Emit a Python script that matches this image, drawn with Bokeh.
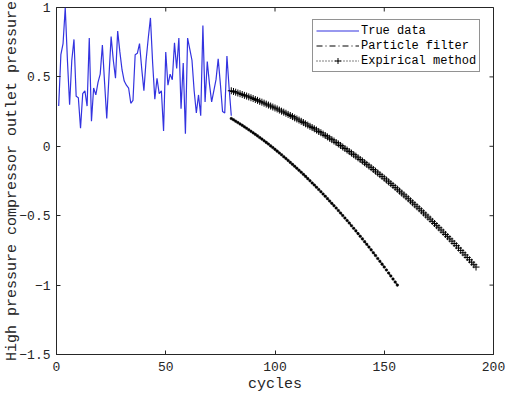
import math

from bokeh.plotting import figure
from bokeh.models import Range1d, FixedTicker, Legend, LegendItem
from bokeh.embed import file_html
from bokeh.resources import INLINE

# ---- data -------------------------------------------------------------
true_cycles = list(range(1, 81))
true_values = [
    0.29, 0.66, 0.74, 1.00, 0.62, 0.30, 0.62, 0.77, 0.36, 0.35,
    0.13, 0.38, 0.40, 0.29, 0.78, 0.18, 0.42, 0.37, 0.46, 0.52,
    0.73, 0.46, 0.20, 0.50, 0.79, 0.62, 0.49, 0.83, 0.68, 0.55,
    0.47, 0.44, 0.42, 0.31, 0.33, 0.66, 0.67, 0.74, 0.56, 0.40,
    0.62, 0.78, 0.925, 0.60, 0.34, 0.49, 0.38, 0.40, 0.11, 0.68,
    0.44, 0.52, 0.48, 0.745, 0.56, 0.78, 0.27, 0.60, 0.09, 0.78,
    0.70, 0.62, 0.40, 0.24, 0.37, 0.22, 0.87, 0.32, 0.61, 0.45,
    0.32, 0.40, 0.48, 0.63, 0.45, 0.25, 0.24, 0.65, 0.42, 0.22,
]

pf_cycles = list(range(80, 157))
pf_values = [
    0.200, 0.191, 0.181, 0.171, 0.161, 0.151, 0.140, 0.130, 0.119, 0.108,
    0.097, 0.086, 0.075, 0.063, 0.052, 0.040, 0.028, 0.016, 0.003, -0.009,
    -0.022, -0.035, -0.048, -0.061, -0.075, -0.088, -0.102, -0.116, -0.130, -0.144,
    -0.158, -0.173, -0.187, -0.202, -0.217, -0.233, -0.248, -0.264, -0.279, -0.295,
    -0.311, -0.327, -0.344, -0.360, -0.377, -0.394, -0.411, -0.428, -0.445, -0.463,
    -0.481, -0.499, -0.517, -0.535, -0.553, -0.572, -0.591, -0.609, -0.629, -0.648,
    -0.667, -0.687, -0.706, -0.726, -0.746, -0.767, -0.787, -0.808, -0.828, -0.849,
    -0.870, -0.891, -0.913, -0.934, -0.956, -0.978, -1.000,
]

em_cycles = list(range(80, 193))
em_values = [
    0.400, 0.395, 0.390, 0.384, 0.379, 0.373, 0.367, 0.362, 0.356, 0.350,
    0.344, 0.337, 0.331, 0.324, 0.318, 0.311, 0.304, 0.297, 0.290, 0.283,
    0.276, 0.269, 0.261, 0.253, 0.246, 0.238, 0.230, 0.222, 0.214, 0.205,
    0.197, 0.189, 0.180, 0.171, 0.162, 0.153, 0.144, 0.135, 0.126, 0.117,
    0.107, 0.098, 0.088, 0.078, 0.068, 0.058, 0.048, 0.038, 0.027, 0.017,
    0.006, -0.005, -0.016, -0.027, -0.038, -0.049, -0.060, -0.071, -0.083, -0.095,
    -0.106, -0.118, -0.130, -0.142, -0.154, -0.167, -0.179, -0.192, -0.204, -0.217,
    -0.230, -0.243, -0.256, -0.269, -0.282, -0.296, -0.309, -0.323, -0.337, -0.350,
    -0.364, -0.378, -0.393, -0.407, -0.421, -0.436, -0.450, -0.465, -0.480, -0.495,
    -0.510, -0.525, -0.541, -0.556, -0.572, -0.587, -0.603, -0.619, -0.635, -0.651,
    -0.667, -0.683, -0.700, -0.716, -0.733, -0.750, -0.767, -0.783, -0.801, -0.818,
    -0.835, -0.853, -0.870,
]

x_lo, x_hi = 0, 200
y_lo, y_hi = -1.5, 1
x_ticks = [0, 50, 100, 150, 200]
y_ticks = [-1.5, -1, -0.5, 0, 0.5, 1]
y_tick_labels = ["\u22121.5", "\u22121", "\u22120.5", "0", "0.5", "1"]

series_labels = ["True data", "Particle filter", "Expirical method"]

# ---- figure -----------------------------------------------------------
AX = "#262626"
MONO = "Liberation Mono"

p = figure(
    width=507, height=396,
    output_backend="svg", toolbar_location=None,
    x_range=Range1d(x_lo, x_hi), y_range=Range1d(y_lo, y_hi),
    min_border_left=56, min_border_right=14,
    min_border_top=7, min_border_bottom=42,
    background_fill_color="white", border_fill_color="white",
)
p.xgrid.visible = False
p.ygrid.visible = False
p.outline_line_color = AX

p.xaxis.ticker = FixedTicker(ticks=x_ticks)
p.yaxis.ticker = FixedTicker(ticks=y_ticks)
p.yaxis.major_label_overrides = {v: s for v, s in zip(y_ticks, y_tick_labels)}

p.xaxis.axis_label = "cycles"
p.yaxis.axis_label = "High pressure compressor outlet pressure"

for ax in (p.xaxis[0], p.yaxis[0]):
    ax.axis_line_color = AX
    ax.major_tick_line_color = AX
    ax.major_tick_in = 4
    ax.major_tick_out = 0
    ax.minor_tick_line_color = None
    ax.major_label_text_font = MONO
    ax.major_label_text_font_size = "13px"
    ax.major_label_text_color = AX
    ax.axis_label_text_font = MONO
    ax.axis_label_text_font_size = "15px"
    ax.axis_label_text_font_style = "normal"
    ax.axis_label_text_color = AX

p.xaxis.major_label_standoff = 7
p.xaxis.axis_label_standoff = 2
p.yaxis.major_label_standoff = 6
p.yaxis.axis_label_standoff = -5

# inward tick marks along the top and right edges of the box
p.scatter([x_hi] * len(y_ticks), y_ticks, marker="dash", size=8,
          line_color=AX, line_width=1)
p.scatter(x_ticks, [y_hi] * len(x_ticks), marker="dash", size=8,
          angle=math.pi / 2, line_color=AX, line_width=1)

# ---- series -----------------------------------------------------------
r_true = p.line(true_cycles, true_values, line_color="#3333e0", line_width=1.2)

r_pf_line = p.line(pf_cycles, pf_values, line_color="black", line_width=1,
                   line_dash="6 3 1 3")
r_pf_pts = p.scatter(pf_cycles, pf_values, marker="circle", size=2.6,
                     fill_color="black", line_color="black", line_width=0.5)

r_em_line = p.line(em_cycles, em_values, line_color="black", line_width=1,
                   line_dash="1 2")
r_em_pts = p.scatter(em_cycles, em_values, marker="cross", size=7,
                     line_color="black", line_width=1)

legend = Legend(
    items=[
        LegendItem(label=series_labels[0], renderers=[r_true]),
        LegendItem(label=series_labels[1], renderers=[r_pf_line]),
        LegendItem(label=series_labels[2], renderers=[r_em_line, r_em_pts]),
    ],
    location=(256, 282),
    border_line_color=AX, border_line_width=1,
    background_fill_color="white", background_fill_alpha=1,
    label_text_font=MONO, label_text_font_size="12px", label_text_color="black",
    glyph_width=43, glyph_height=15, label_height=15,
    spacing=0, padding=3, margin=0, label_standoff=2,
)
p.add_layout(legend)

open("out.html", "w").write(file_html(p, INLINE))
